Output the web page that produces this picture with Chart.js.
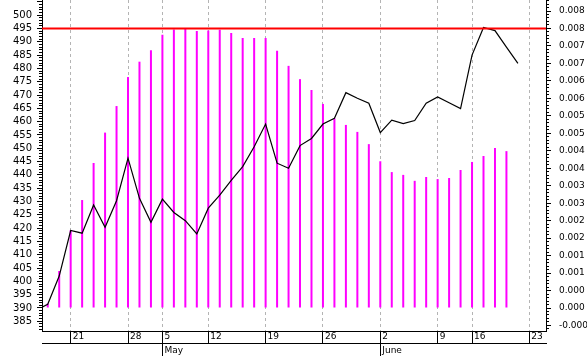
<!DOCTYPE html>
<html>
<head>
<meta charset="utf-8">
<script src="https://cdn.jsdelivr.net/npm/chart.js@4/dist/chart.umd.min.js"></script>
<style>
  html, body { margin: 0; padding: 0; background: #fff; }
  #wrap { width: 587px; height: 356px; }
</style>
</head>
<body>
<div id="wrap"><canvas id="chart" width="587" height="356"></canvas></div>
<script>
// price line (left axis), one value per trading day, plus the opening value at the left edge
var priceStart  = 390.3;
var priceValues = [
    391.4, 402.0, 419.1, 418.1, 428.7, 420.3, 430.3, 446.3, 431.2, 422.2,
    430.9, 425.9, 422.8, 417.8, 427.5, 432.4, 437.9, 443.1, 450.6, 459.1,
    444.4, 442.5, 451.0, 453.7, 459.1, 461.3, 470.9, 468.8, 466.9, 455.9,
    460.6, 459.3, 460.4, 466.9, 469.3, 467.1, 464.9, 485.0, 495.4, 494.2,
    488.0, 481.9
];

// indicator bars (right axis)
var barValues = [
    0.00013, 0.00106, 0.00223, 0.00309, 0.00415, 0.00502, 0.00578, 0.00661, 0.00705, 0.00738,
    0.00782, 0.00797, 0.00799, 0.00793, 0.00794, 0.00796, 0.00787, 0.00773, 0.00773, 0.00773,
    0.00736, 0.00693, 0.00655, 0.00624, 0.00584, 0.00543, 0.00524, 0.00504, 0.00469, 0.00420,
    0.00389, 0.00381, 0.00364, 0.00375, 0.00369, 0.00372, 0.00395, 0.00418, 0.00435, 0.00458,
    0.00449
];

// horizontal reference level (left axis)
var limitLevel = 495;

// x axis labels: trading-day index -> label
var dayTickIdx    = [2, 7, 10, 14, 19, 24, 29, 34, 37, 42];
var dayTickLabels = ['21', '28', '5', '12', '19', '26', '2', '9', '16', '23'];
var monthTickIdx    = [10, 29];
var monthTickLabels = ['May', 'June'];

var xMin = -0.5, xMax = 43.45;
var leftMin = 381.36, leftMax = 505.7;
var rightMin = -0.000658, rightMax = 0.008815;

var FONT      = { family: '"DejaVu Sans", sans-serif', size: 9 };
var FONT_LEFT = { family: '"DejaVu Sans", sans-serif', size: 10 };

function truncLabel(v) {
    var a = Math.floor(Math.abs(v) * 1000 + 1e-6) / 1000;
    return (v < -1e-9 ? '-' : '') + a.toFixed(3);
}

// force the box size and drop the label padding chart.js adds around the chart area
function fixedSize(w, h) {
    return function (scale) {
        if (w !== null) scale.width = w;
        if (h !== null) scale.height = h;
        scale.paddingLeft = scale.paddingRight = scale.paddingTop = scale.paddingBottom = 0;
    };
}

function setTicks(values) {
    return function (scale) {
        scale.ticks = values.map(function (v) { return { value: v }; });
    };
}

var priceData = [{ x: xMin, y: priceStart }].concat(
    priceValues.map(function (v, i) { return { x: i, y: v }; })
);
var barData = barValues.map(function (v, i) { return { x: i, y: v }; });
var limitData = [{ x: xMin, y: limitLevel }, { x: xMax, y: limitLevel }];

var yTickCommon = { autoSkip: false, maxTicksLimit: 1000, color: '#000', font: FONT };

new Chart(document.getElementById('chart'), {
    type: 'bar',
    data: {
        datasets: [
            {
                type: 'line', data: limitData, yAxisID: 'y', xAxisID: 'x',
                borderColor: '#ff0000', borderWidth: 2, pointRadius: 0, order: 0
            },
            {
                type: 'line', data: priceData, yAxisID: 'y', xAxisID: 'x',
                borderColor: '#000000', borderWidth: 1.2, pointRadius: 0, tension: 0, order: 1
            },
            {
                type: 'bar', data: barData, yAxisID: 'yR', xAxisID: 'x',
                backgroundColor: '#ff00ff', barThickness: 2, inflateAmount: 0, grouped: false, order: 2
            }
        ]
    },
    options: {
        responsive: false,
        animation: false,
        events: [],
        layout: { padding: 0 },
        plugins: { legend: { display: false }, tooltip: { enabled: false } },
        scales: {
            x: {
                type: 'linear', position: 'bottom', min: xMin, max: xMax, weight: 0, offset: false,
                afterBuildTicks: setTicks(dayTickIdx),
                afterFit: fixedSize(null, 12),
                grid: { offset: false, color: '#b4b4b4', lineWidth: 1, tickLength: 12, tickColor: '#000', tickBorderDash: [] },
                border: { display: true, color: '#000', width: 1, dash: [3, 3] },
                ticks: {
                    autoSkip: false, maxRotation: 0, align: 'start', labelOffset: 2, padding: -12,
                    color: '#000', font: FONT,
                    callback: function (v) { return dayTickLabels[dayTickIdx.indexOf(v)]; }
                }
            },
            xm: {
                type: 'linear', position: 'bottom', min: xMin, max: xMax, weight: 1, offset: false,
                afterBuildTicks: setTicks(monthTickIdx),
                afterFit: fixedSize(null, 13),
                grid: { offset: false, drawOnChartArea: false, tickLength: 13, tickColor: '#000' },
                border: { display: true, color: '#000', width: 1 },
                ticks: {
                    autoSkip: false, maxRotation: 0, align: 'start', labelOffset: 2, padding: -11,
                    color: '#000', font: FONT,
                    callback: function (v) { return monthTickLabels[monthTickIdx.indexOf(v)]; }
                }
            },
            // left axis: minor ticks every 1, labelled major ticks every 5
            yLm: {
                type: 'linear', position: 'left', min: leftMin, max: leftMax, weight: 0,
                afterFit: fixedSize(0, null),
                grid: { drawOnChartArea: false, tickLength: 3, tickColor: '#000' },
                border: { display: false },
                ticks: Object.assign({}, yTickCommon, { stepSize: 1, includeBounds: false, display: false })
            },
            y: {
                type: 'linear', position: 'left', min: leftMin, max: leftMax, weight: 1,
                afterFit: fixedSize(42, null),
                grid: { drawOnChartArea: false, tickLength: 5, tickColor: '#000' },
                border: { display: true, color: '#000', width: 1 },
                ticks: Object.assign({}, yTickCommon, {
                    stepSize: 5, includeBounds: false, padding: 5, font: FONT_LEFT,
                    callback: function (v) { return v <= 500 ? String(v) : ''; }
                })
            },
            // right axis: minor ticks every 0.0001, labelled major ticks every 0.0005
            yRm: {
                type: 'linear', position: 'right', min: rightMin, max: rightMax, weight: 0,
                afterFit: fixedSize(0, null),
                grid: { drawOnChartArea: false, tickLength: 3, tickColor: '#000' },
                border: { display: false },
                ticks: Object.assign({}, yTickCommon, { stepSize: 0.0001, includeBounds: false, display: false })
            },
            yR: {
                type: 'linear', position: 'right', min: rightMin, max: rightMax, weight: 1,
                afterFit: fixedSize(41, null),
                grid: { drawOnChartArea: false, tickLength: 5, tickColor: '#000' },
                border: { display: true, color: '#000', width: 1 },
                ticks: Object.assign({}, yTickCommon, {
                    stepSize: 0.0005, includeBounds: false, padding: 8,
                    callback: function (v) { return truncLabel(v); }
                })
            }
        }
    }
});
</script>
</body>
</html>
